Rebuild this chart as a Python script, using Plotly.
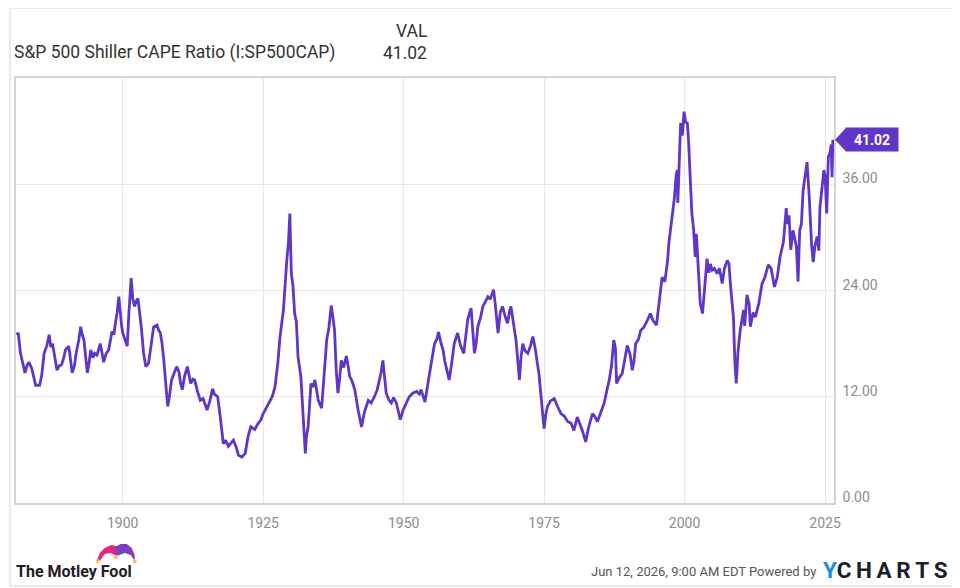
import plotly.graph_objects as go

# monthly-ish readings of the S&P 500 Shiller CAPE ratio (decimal years)
years = [
    1881.1, 1881.4, 1881.8, 1882.3, 1882.6, 1883.0, 1883.3, 1883.8, 1884.5, 1885.2,
    1885.6, 1886.0, 1886.5, 1886.9, 1887.2, 1887.5, 1888.0, 1888.3, 1888.7, 1889.1,
    1889.5, 1889.8, 1890.4, 1890.7, 1891.0, 1891.4, 1891.7, 1892.2, 1892.5, 1892.8,
    1893.1, 1893.4, 1893.7, 1894.0, 1894.3, 1894.7, 1895.0, 1895.4, 1895.7, 1896.0,
    1896.3, 1896.6, 1897.0, 1897.5, 1898.1, 1898.4, 1898.7, 1899.0, 1899.3, 1899.6,
    1899.8, 1900.0, 1900.4, 1900.8, 1901.1, 1901.5, 1901.8, 1902.1, 1902.4, 1902.7,
    1903.0, 1903.3, 1903.7, 1904.1, 1904.6, 1905.0, 1905.5, 1906.1, 1906.4, 1906.7,
    1907.0, 1907.3, 1907.7, 1908.0, 1908.3, 1908.7, 1909.1, 1909.6, 1910.0, 1910.3,
    1910.6, 1911.0, 1911.5, 1911.8, 1912.1, 1912.5, 1912.8, 1913.3, 1913.8, 1914.3,
    1915.0, 1915.5, 1916.0, 1916.3, 1916.9, 1917.4, 1917.9, 1918.3, 1918.8, 1919.3,
    1919.7, 1920.2, 1920.6, 1921.2, 1921.8, 1922.3, 1922.8, 1923.5, 1924.1, 1924.6,
    1925.0, 1925.6, 1926.2, 1926.6, 1927.1, 1927.6, 1928.0, 1928.6, 1929.2, 1929.5,
    1929.75, 1929.9, 1930.0, 1930.3, 1930.6, 1930.9, 1931.2, 1931.7, 1932.1, 1932.5,
    1932.7, 1933.0, 1933.3, 1933.5, 1933.9, 1934.2, 1934.5, 1934.8, 1935.4, 1935.8,
    1936.3, 1936.7, 1937.1, 1937.4, 1937.7, 1938.0, 1938.3, 1938.6, 1938.9, 1939.3,
    1939.8, 1940.1, 1940.4, 1940.8, 1941.3, 1941.9, 1942.5, 1943.0, 1943.4, 1943.7,
    1944.2, 1944.8, 1945.3, 1945.7, 1946.0, 1946.3, 1946.6, 1946.9, 1947.4, 1947.8,
    1948.2, 1948.7, 1949.0, 1949.4, 1949.9, 1950.5, 1951.0, 1951.6, 1952.3, 1952.8,
    1953.1, 1953.8, 1954.2, 1954.6, 1955.1, 1955.5, 1955.9, 1956.2, 1956.6, 1957.0,
    1957.3, 1957.8, 1958.1, 1958.6, 1959.0, 1959.6, 1960.1, 1960.7, 1961.1, 1961.4,
    1961.8, 1962.0, 1962.3, 1962.6, 1962.9, 1963.2, 1963.7, 1964.1, 1964.6, 1965.0,
    1965.4, 1966.0, 1966.3, 1966.8, 1967.2, 1967.6, 1968.1, 1968.5, 1968.9, 1969.1,
    1969.5, 1970.0, 1970.4, 1970.6, 1970.9, 1971.2, 1971.6, 1972.1, 1972.6, 1973.0,
    1973.4, 1973.8, 1974.1, 1974.4, 1974.7, 1975.0, 1975.3, 1975.6, 1976.1, 1976.8,
    1977.4, 1978.0, 1978.6, 1979.2, 1979.8, 1980.3, 1980.9, 1981.3, 1981.8, 1982.4,
    1982.9, 1983.6, 1984.0, 1984.5, 1985.0, 1985.7, 1986.1, 1986.6, 1987.0, 1987.4,
    1987.7, 1987.9, 1988.4, 1988.9, 1989.3, 1989.8, 1990.3, 1990.7, 1991.0, 1991.3,
    1991.8, 1992.2, 1992.7, 1993.3, 1993.9, 1994.4, 1995.0, 1995.5, 1996.0, 1996.5,
    1997.0, 1997.2, 1997.8, 1998.2, 1998.5, 1998.7, 1998.8, 1999.0, 1999.3, 1999.6,
    1999.9, 2000.2, 2000.5, 2000.7, 2001.0, 2001.3, 2001.6, 2001.9, 2002.1, 2002.4,
    2002.8, 2003.2, 2003.6, 2004.0, 2004.3, 2004.6, 2004.9, 2005.3, 2005.8, 2006.2,
    2006.7, 2007.1, 2007.6, 2007.9, 2008.2, 2008.7, 2008.95, 2009.2, 2009.5, 2009.9,
    2010.3, 2010.5, 2010.7, 2011.1, 2011.5, 2011.7, 2012.2, 2012.6, 2013.2, 2013.8,
    2014.3, 2014.9, 2015.4, 2016.0, 2016.5, 2017.0, 2017.6, 2018.1, 2018.3, 2018.6,
    2018.9, 2019.3, 2019.9, 2020.2, 2020.5, 2020.8, 2021.1, 2021.5, 2021.8, 2022.2,
    2022.6, 2022.9, 2023.2, 2023.6, 2023.9, 2024.1, 2024.5, 2024.8, 2025.0, 2025.3,
    2025.6, 2025.9, 2026.1, 2026.25, 2026.4,
]
cape = [
    19.0, 19.2, 16.9, 15.5, 14.7, 15.6, 15.9, 15.2, 13.3, 13.3,
    14.5, 16.9, 17.8, 19.0, 17.6, 18.0, 16.0, 15.0, 15.5, 15.6,
    16.4, 17.3, 17.7, 16.0, 14.7, 15.5, 16.9, 18.5, 19.9, 19.0,
    18.4, 16.5, 14.7, 15.8, 17.3, 16.4, 16.9, 16.7, 17.5, 18.0,
    17.0, 15.9, 16.8, 17.3, 19.4, 19.0, 20.3, 21.5, 23.3, 21.0,
    20.0, 19.2, 18.5, 17.7, 21.5, 25.4, 23.0, 22.2, 22.8, 23.1,
    21.5, 19.9, 17.0, 15.4, 15.8, 17.8, 19.9, 20.1, 19.5, 19.2,
    18.0, 16.2, 13.0, 10.9, 12.0, 13.9, 14.6, 15.4, 14.8, 13.5,
    12.8, 14.3, 15.4, 14.2, 13.5, 14.0, 13.9, 12.6, 11.6, 11.8,
    10.5, 11.5, 12.9, 12.3, 12.0, 9.5, 6.7, 7.1, 6.4, 6.8,
    7.1, 6.3, 5.4, 5.2, 5.6, 7.5, 8.6, 8.3, 9.0, 9.4,
    10.1, 10.8, 11.5, 12.0, 13.1, 15.8, 18.8, 21.8, 27.4, 29.5,
    32.7, 28.0, 26.0, 24.5, 21.4, 20.5, 16.5, 14.3, 9.7, 5.6,
    7.5, 8.6, 11.5, 13.5, 13.1, 13.9, 12.8, 11.6, 10.7, 14.0,
    18.4, 19.8, 22.3, 21.0, 19.5, 15.0, 12.4, 14.0, 16.1, 15.3,
    16.6, 15.5, 14.3, 13.8, 12.8, 10.5, 8.6, 10.2, 10.9, 11.6,
    11.3, 12.0, 12.8, 13.9, 14.8, 16.1, 14.0, 12.4, 11.6, 11.3,
    11.9, 11.3, 10.5, 9.4, 10.5, 11.3, 12.0, 12.4, 12.6, 12.3,
    12.8, 11.4, 12.8, 14.6, 16.5, 18.0, 18.5, 19.3, 18.2, 17.3,
    16.1, 14.5, 13.9, 16.0, 18.0, 19.2, 17.8, 16.9, 19.5, 20.7,
    21.6, 22.0, 19.5, 16.9, 18.0, 19.9, 21.0, 22.2, 22.8, 23.3,
    23.0, 24.1, 22.5, 19.2, 21.5, 22.2, 21.0, 20.3, 21.8, 22.2,
    20.5, 18.4, 15.5, 13.9, 16.5, 18.0, 17.2, 16.9, 17.8, 18.8,
    17.5, 15.8, 14.5, 12.4, 10.0, 8.4, 10.0, 10.9, 11.5, 11.8,
    10.9, 10.1, 9.8, 9.2, 9.0, 8.2, 9.7, 9.0, 8.2, 6.9,
    8.5, 10.1, 9.8, 9.2, 10.0, 11.3, 12.5, 13.9, 15.5, 18.4,
    17.5, 13.5, 14.2, 14.6, 16.0, 17.8, 16.8, 15.0, 16.0, 18.0,
    18.5, 19.5, 19.8, 20.5, 21.4, 20.6, 20.1, 22.5, 25.5, 25.0,
    27.5, 29.3, 32.7, 34.5, 37.0, 37.6, 33.9, 38.5, 42.9, 41.5,
    44.2, 43.0, 42.9, 41.0, 36.1, 32.7, 31.0, 27.8, 30.4, 27.5,
    22.5, 21.4, 24.5, 27.6, 26.0, 27.0, 26.3, 26.5, 25.9, 26.5,
    24.8, 26.5, 27.4, 27.0, 24.4, 21.0, 16.0, 13.5, 17.0, 19.5,
    21.0, 21.8, 20.0, 23.5, 22.5, 19.9, 21.5, 21.0, 22.5, 24.8,
    25.5, 26.9, 26.5, 24.4, 25.5, 27.8, 29.5, 33.3, 31.5, 32.5,
    28.6, 30.8, 29.0, 25.0, 30.8, 31.5, 35.3, 37.5, 38.5, 34.5,
    29.3, 27.2, 29.0, 30.1, 28.5, 33.4, 35.5, 37.6, 37.0, 32.7,
    39.1, 39.6, 40.5, 36.8, 41.02,
]

x_ticks = [1900, 1925, 1950, 1975, 2000, 2025]
x_labels = ['1900', '1925', '1950', '1975', '2000', '2025']
y_ticks = [0, 12, 24, 36]
y_labels = ['0.00', '12.00', '24.00', '36.00']

last_value = cape[-1]
series_name = 'S&P 500 Shiller CAPE Ratio (I:SP500CAP)'

PURPLE = '#6035c9'
# the page body adds an 8px offset, so the figure is drawn 8px smaller
OFF = 8
W, H = 960 - OFF, 588 - OFF
L, R, T, B = 14 - OFF, 126, 78 - OFF, 85
PW, PH = W - L - R, H - T - B


def px(x, y):
    # page pixel -> paper coordinates
    return (x - OFF - L) / PW, (H - B - (y - OFF)) / PH


def path(points):
    parts = []
    for i, (x, y) in enumerate(points):
        a, b = px(x, y)
        parts.append(('M' if i == 0 else 'L') + f'{a:.4f},{b:.4f}')
    return ' '.join(parts) + ' Z'


fig = go.Figure()
fig.add_trace(go.Scatter(
    x=years, y=cape, mode='lines', name=series_name,
    line=dict(color=PURPLE, width=2.8),
))

shapes = [
    # outer frame
    dict(type='rect', xref='paper', yref='paper',
         x0=px(OFF, 0)[0], x1=px(957, 0)[0], y0=px(0, 586)[1], y1=px(0, OFF)[1],
         line=dict(color='#e3e3e3', width=1.5), layer='below'),
    # value tag pointer
    dict(type='path', xref='paper', yref='y',
         path=f'M{px(835, 0)[0]:.4f},{last_value} '
              f'L{px(846, 0)[0]:.4f},{last_value + 1.32} '
              f'L{px(846, 0)[0]:.4f},{last_value - 1.32} Z',
         fillcolor=PURPLE, line=dict(width=0)),
    # jester cap
    dict(type='path', xref='paper', yref='paper',
         path=path([(95, 561), (98, 553), (103, 548), (109, 545), (115, 546),
                    (115, 556), (109, 553), (103, 554), (98, 561)]),
         fillcolor='#e8237f', line=dict(width=0)),
    dict(type='path', xref='paper', yref='paper',
         path=path([(113, 547), (119, 544), (125, 544), (130, 548), (133, 555),
                    (133, 561), (129, 555), (123, 553), (115, 556)]),
         fillcolor='#7a3fc4', line=dict(width=0)),
]
for cx, cy in [(96, 561), (133, 561), (114, 557)]:
    x0, y0 = px(cx - 2, cy + 2)
    x1, y1 = px(cx + 2, cy - 2)
    shapes.append(dict(type='circle', xref='paper', yref='paper',
                       x0=x0, x1=x1, y0=y0, y1=y1,
                       fillcolor='#f6c343', line=dict(width=0)))

annotations = [
    dict(text=series_name, xref='paper', yref='paper',
         x=px(10, 0)[0], y=px(0, 53)[1], xanchor='left', yanchor='middle',
         showarrow=False, font=dict(size=17.5, color='#333333')),
    dict(text='VAL', xref='paper', yref='paper',
         x=px(428, 0)[0], y=px(0, 31)[1], xanchor='right', yanchor='middle',
         showarrow=False, font=dict(size=17.5, color='#333333')),
    dict(text=f'{last_value:.2f}', xref='paper', yref='paper',
         x=px(428, 0)[0], y=px(0, 53)[1], xanchor='right', yanchor='middle',
         showarrow=False, font=dict(size=17.5, color='#333333')),
    dict(text=f'<b>{last_value:.2f}</b>', xref='paper', yref='y',
         x=px(845, 0)[0], y=last_value, xanchor='left', yanchor='middle',
         showarrow=False, bgcolor=PURPLE, width=50, height=21, borderpad=1,
         font=dict(size=14, color='white')),
    dict(text='<b>The Motley Fool</b>', xref='paper', yref='paper',
         x=px(12, 0)[0], y=px(0, 571)[1], xanchor='left', yanchor='middle',
         showarrow=False, font=dict(size=16, color='#1d1d1d')),
    dict(text='Jun 12, 2026, 9:00 AM EDT Powered by', xref='paper', yref='paper',
         x=px(818, 0)[0], y=px(0, 571)[1], xanchor='right', yanchor='middle',
         showarrow=False, font=dict(size=13, color='#555555')),
    dict(text="<b><span style='color:#1a8ee2'>Y</span>C\u2009H\u2009A\u2009R\u2009T\u2009S</b>",
         xref='paper', yref='paper',
         x=px(821, 0)[0], y=px(0, 570)[1], xanchor='left', yanchor='middle',
         showarrow=False, font=dict(size=22.5, color='#1b1d2b')),
]

fig.update_layout(
    width=W, height=H,
    margin=dict(l=L, r=R, t=T, b=B, pad=0),
    paper_bgcolor='white', plot_bgcolor='white',
    font=dict(family='Roboto, sans-serif'),
    showlegend=False,
    shapes=shapes,
    annotations=annotations,
)
fig.update_xaxes(
    range=[1881.0, 2026.6], tickvals=x_ticks, ticktext=x_labels,
    showgrid=True, gridcolor='#e6e6e6', gridwidth=1, zeroline=False,
    showline=True, mirror=True, linecolor='#d4d4d4', linewidth=1.5,
    ticks='', ticklabelstandoff=6,
    tickfont=dict(size=14, color='#8c8c8c'),
)
fig.update_yaxes(
    range=[0, 48], tickvals=y_ticks, ticktext=y_labels, side='right',
    showgrid=True, gridcolor='#e6e6e6', gridwidth=1, zeroline=False,
    showline=True, mirror=True, linecolor='#d4d4d4', linewidth=1.5,
    ticks='', ticklabelposition='outside top', ticklabelstandoff=4,
    ticklabelshift=4,
    tickfont=dict(size=14, color='#8c8c8c'),
)

fig.write_html('out.html')
